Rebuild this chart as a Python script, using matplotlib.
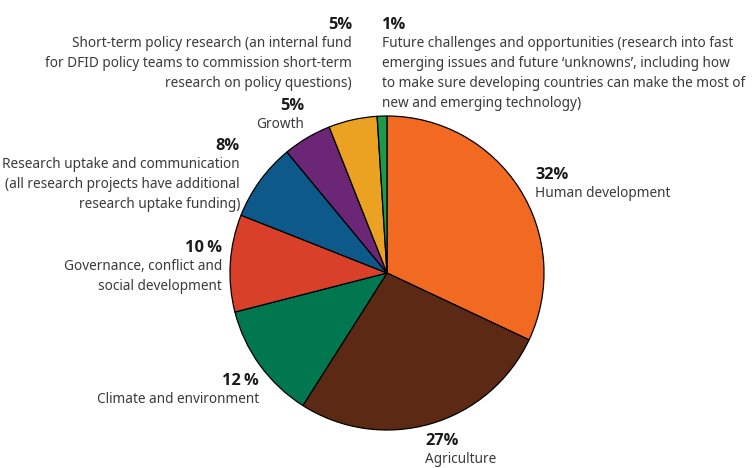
import matplotlib
matplotlib.use('Agg')
import matplotlib.pyplot as plt

# Reparto del presupuesto de investigacion (porcentaje)
categorias = [
    "Human development",
    "Agriculture",
    "Climate and environment",
    "Governance, conflict and\nsocial development",
    "Research uptake and communication\n(all research projects have additional\nresearch uptake funding)",
    "Growth",
    "Short-term policy research (an internal fund\nfor DFID policy teams to commission short-term\nresearch on policy questions)",
    "Future challenges and opportunities (research into fast\nemerging issues and future \u2018unknowns\u2019, including how\nto make sure developing countries can make the most of\nnew and emerging technology)",
]
valores = [32, 27, 12, 10, 8, 5, 5, 1]
etiquetas_pct = ["32%", "27%", "12\u2009%", "10\u2009%", "8%", "5%", "5%", "1%"]
colores = ["#F26A21", "#5C2914", "#00774F", "#D8402A", "#0D5A8A",
           "#6B2675", "#EBA223", "#1E9849"]

# posicion de cada etiqueta en pixeles: (x, y del porcentaje, alineacion)
pos = [(535, 175, 'left'), (425, 441, 'left'), (259, 381, 'right'),
       (222, 248, 'right'), (240, 146, 'right'), (304, 106, 'right'),
       (352, 25, 'right'), (382, 25, 'left')]

plt.rcParams['font.family'] = ['Noto Sans', 'DejaVu Sans']

fig = plt.figure(figsize=(7.54, 4.68), dpi=100)
ax = fig.add_axes([0, 0, 1, 1])

ax.pie(valores, colors=colores, startangle=-90, counterclock=True,
       center=(387, 273), radius=157,
       wedgeprops=dict(edgecolor='black', linewidth=0.9))
ax.set_xlim(0, 754)
ax.set_ylim(468, 0)
ax.set_aspect('equal')
ax.axis('off')

for cat, pct, (x, y, ha) in zip(categorias, etiquetas_pct, pos):
    ax.text(x, y, pct, ha=ha, va='center', fontsize=11.8,
            fontweight='bold', color='#1a1a1a',
            family=['Open Sans', 'DejaVu Sans'])
    ax.text(x, y + 11, cat, ha=ha, va='top', fontsize=9.8,
            color='#3a3a3a', linespacing=1.45, multialignment=ha)

fig.savefig('out.png', dpi=100)
